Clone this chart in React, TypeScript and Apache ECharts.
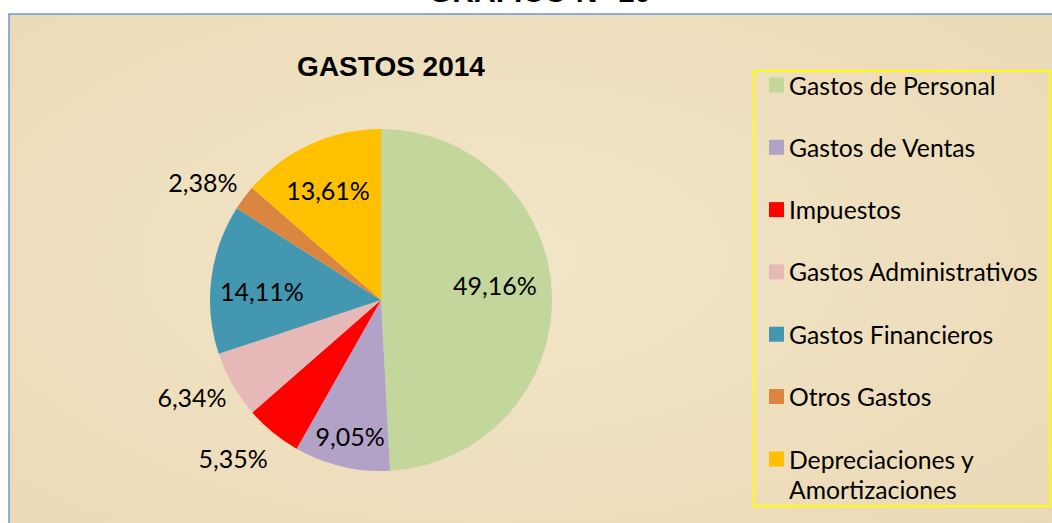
import React, { useEffect, useRef } from "react";
import * as echarts from "echarts";

const categories = [
  "Gastos de Personal",
  "Gastos de Ventas",
  "Impuestos",
  "Gastos Administrativos",
  "Gastos Financieros",
  "Otros Gastos",
  "Depreciaciones y Amortizaciones",
];
const values = [49.16, 9.05, 5.35, 6.34, 14.11, 2.38, 13.61];
const colors = ["#C3D69B", "#B3A2C7", "#FF0000", "#E6B9B8", "#4397B1", "#DA8640", "#FFC000"];
// label placement: fraction of the pie radius, and angular shift (degrees) from the slice middle
const labelRadius = [0.672, 0.816, 1.266, 1.242, 0.698, 1.249, 0.714];
const labelShift = [-6, -0.5, 3.9, 2.6, -2.8, -3.2, -1.2];

const mainTitle = "GRAFICO N° 10";
const chartTitle = "GASTOS 2014";

const W = 1052;
const H = 523;
const CX = 381;
const CY = 300;
const R = 171;
const FONT = "Lato, 'Open Sans', sans-serif";

export default function App() {
  const ref = useRef<HTMLDivElement>(null);
  useEffect(() => {
    if (!ref.current) return;
    const chart = echarts.init(ref.current, undefined, { renderer: "svg" });
    const total = values.reduce((a, b) => a + b, 0);
    const cum: number[] = [];
    let acc = 0;
    values.forEach((v) => {
      cum.push(acc);
      acc += v;
    });
    const fmt = (v: number) => v.toFixed(2).replace(".", ",") + "%";
    const legendCommon = {
      orient: "vertical",
      left: 769,
      padding: 0,
      itemWidth: 15,
      itemHeight: 15,
      itemGap: 32.3,
      icon: "rect",
      selectedMode: false,
      textStyle: { fontFamily: FONT, fontSize: 24.7, color: "#000", lineHeight: 30 },
    };
    const last = categories[categories.length - 1];
    chart.setOption({
      animation: false,
      backgroundColor: "#FFFFFF",
      graphic: [
        {
          type: "rect",
          z: -10,
          shape: { x: 9, y: 14, width: W + 20, height: H + 20 },
          style: {
            fill: {
              type: "radial",
              x: 0.45,
              y: 0.45,
              r: 0.8,
              colorStops: [
                { offset: 0, color: "#F2E5C8" },
                { offset: 1, color: "#EAD8B3" },
              ],
            },
            stroke: "#6F98D2",
            lineWidth: 1.5,
          },
        },
        {
          type: "text",
          x: 540,
          y: 6,
          z: 5,
          style: {
            text: mainTitle,
            font: "bold 30px 'Liberation Sans', Arial, sans-serif",
            fill: "#000",
            align: "center",
            verticalAlign: "bottom",
          },
        },
        {
          type: "text",
          x: 391,
          y: 66,
          style: {
            text: chartTitle,
            font: "bold 28px 'Liberation Sans', Arial, sans-serif",
            fill: "#000",
            align: "center",
            verticalAlign: "middle",
          },
        },
        {
          type: "rect",
          z: -5,
          shape: { x: 754, y: 71, width: 296, height: 435 },
          style: { fill: "none", stroke: "#FFFF00", lineWidth: 2 },
        },
      ],
      legend: [
        {
          ...legendCommon,
          top: 70,
          data: categories.slice(0, categories.length - 1),
        },
        {
          ...legendCommon,
          top: 414,
          data: [last],
          // leading empty line so that the icon sits beside the first text line
          formatter: () => "\nDepreciaciones y\nAmortizaciones",
        },
      ],
      series: [
        {
          type: "pie",
          center: [CX, CY],
          radius: R,
          startAngle: 90,
          clockwise: true,
          avoidLabelOverlap: false,
          emphasis: { disabled: true },
          itemStyle: { borderWidth: 0 },
          data: categories.map((c, i) => ({
            name: c,
            value: values[i],
            itemStyle: { color: colors[i] },
          })),
          label: {
            show: true,
            position: "inside",
            color: "#000",
            fontFamily: FONT,
            fontSize: 25,
            formatter: (p: any) => fmt(p.value),
          },
          labelLine: { show: false },
          labelLayout: (p: any) => {
            const i = p.dataIndex;
            const mid = ((cum[i] + values[i] / 2) / total) * Math.PI * 2 + (labelShift[i] * Math.PI) / 180;
            const rr = R * labelRadius[i];
            return { x: CX + rr * Math.sin(mid), y: CY - rr * Math.cos(mid) };
          },
        },
      ],
    });
    return () => chart.dispose();
  }, []);
  return (
    <div
      ref={ref}
      style={{ position: "absolute", left: 0, top: 0, width: W, height: H }}
    />
  );
}
